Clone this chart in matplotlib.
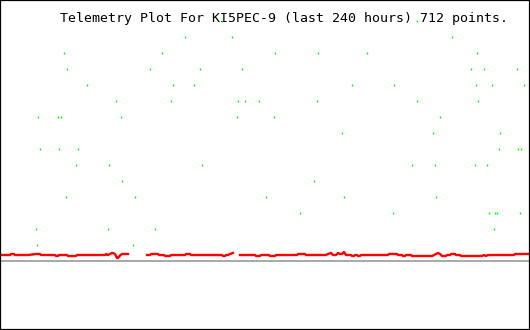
import numpy as np
import matplotlib
matplotlib.use("Agg")
import matplotlib.pyplot as plt

# Plot is in "screen column" units (x) and height above bottom (y)
title = "Telemetry Plot For KI5PEC-9 (last 240 hours) 712 points."

# green telemetry dots, grouped by level (height)
green_levels = {
    309: [222, 417],
    293: [185, 232, 452],
    277: [64, 162, 275, 318, 367, 477],
    261: [67, 150, 200, 242, 471, 484, 517],
    245: [87, 173, 194, 352, 394, 476, 492, 524],
    229: [116, 171, 238, 245, 259, 317, 417, 478],
    213: [38, 58, 61, 121, 237, 274, 440],
    197: [342, 433, 500],
    181: [40, 59, 78, 499, 518, 521],
    165: [76, 109, 202, 412, 435, 475, 487],
    149: [122, 314],
    133: [66, 135, 266, 344, 436],
    117: [300, 393, 489, 495, 497, 520],
    101: [36, 108, 155, 494],
    85: [37, 133],
}

# red trace (nan = gap in data)
red_x = [1, 10, 11, 14, 15, 28, 36, 40, 41, 55, 56, 58, 59, 67, 68, 76, 77, 105,
         106, 108, 110, 112, 113, 115, 117, 118, 120, 122, 128, np.nan,
         147, 150, 151, 158, 159, 164, 165, 170, 171, 185, 186, 190, 191, 222,
         223, 225, 226, 228, 230, 233, np.nan,
         240, 255, 256, 260, 261, 269, 270, 275, 276, 297, 298, 305, 306, 326,
         328, 331, 333, 336, 338, 340, 342, 344, 346, 351, 352, 354, 355, 357,
         358, 360, 361, 388, 389, 397, 398, 402, 403, 405, 406, 411, 412, 432,
         434, 436, 438, 440, 442, 446, 447, 450, 451, 455, 456, 460, 461, 482,
         484, 486, 488, 514, 515, 529]
red_y = [75, 75, 76, 76, 75, 75, 76, 76, 75, 75, 74, 74, 75, 75, 74, 74, 75, 75,
         76, 75, 76, 77, 77, 76, 72, 72, 74.5, 76, 76, np.nan,
         75, 75, 76, 76, 75, 75, 74, 74, 75, 75, 76, 76, 75, 75,
         74, 74, 75, 75, 76, 77, np.nan,
         75, 75, 74, 74, 75, 75, 74, 74, 75, 75, 76, 76, 75, 75,
         76, 77, 75, 75, 77, 76, 76, 78, 75, 75, 74, 74, 75, 75,
         74, 74, 75, 75, 76, 76, 75, 75, 74, 74, 75, 75, 74, 74,
         75, 76, 77, 76, 74, 74, 75, 75, 76, 76, 75, 75, 74, 74,
         75, 74, 75, 75, 76, 76]

baseline = 69

fig = plt.figure(figsize=(5.3, 3.3), dpi=100)
ax = fig.add_axes([0, 0, 1, 1])
ax.set_xlim(0, 530)
ax.set_ylim(0, 330)
ax.set_xticks([])
ax.set_yticks([])
for s in ax.spines.values():
    s.set_linewidth(1.6)
    s.set_color("black")

ax.axhline(baseline, color="#aaaaaa", lw=1.44, zorder=1)
ax.plot(red_x, red_y, color="#ff0000", lw=1.7, zorder=2)

ax.text(60, 308, title, family="DejaVu Sans Mono", fontsize=9.55,
        color="black", va="baseline", ha="left", zorder=2)

for lvl, xs in green_levels.items():
    ax.plot(xs, [lvl] * len(xs), linestyle="none", marker="|", color="#00ff00",
            markersize=1.8, markeredgewidth=1.0, antialiased=False, zorder=3)

fig.savefig("out.png", dpi=100, facecolor="white")
